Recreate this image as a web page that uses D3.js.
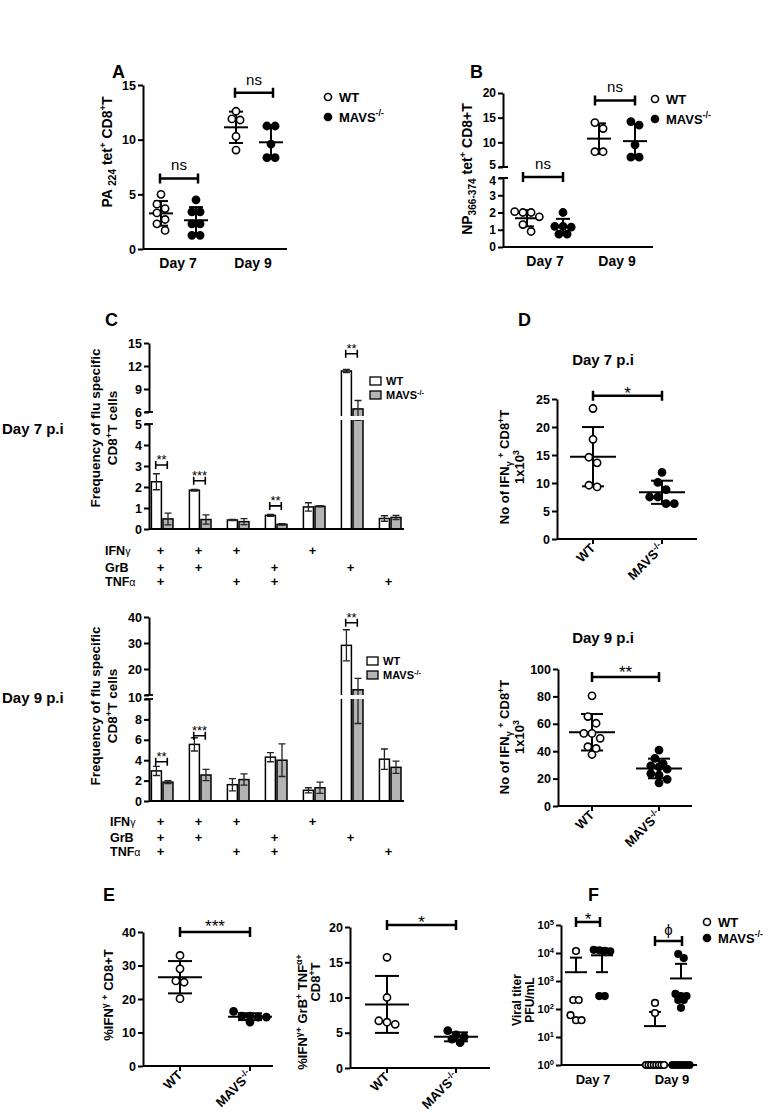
<!DOCTYPE html>
<html><head><meta charset="utf-8">
<script src="https://cdn.jsdelivr.net/npm/d3@7"></script>
<style>body{margin:0;background:#fff}svg{display:block}</style>
</head><body>
<svg id="chart" width="770" height="1118"></svg>
<script>
// ================= DATA =================
// Panel A
const aDays = ["Day 7", "Day 9"];
const aWT = [[5.0, 4.1, 3.7, 3.3, 2.7, 2.3, 1.7], [12.6, 11.9, 11.8, 10.3, 9.05]];
const aMAVS = [[4.5, 3.4, 3.4, 2.3, 2.3, 1.25, 1.25], [11.25, 11.25, 9.6, 8.35, 8.35]];
const aTicks = [0, 5, 10, 15];
const aSig = [6.45, 14.3];
const aSigLabels = ["ns", "ns"];
// Panel B
const bDays = ["Day 7", "Day 9"];
const bWT = [[2.05, 2.0, 2.0, 1.75, 1.3, 0.9], [14.0, 12.8, 8.1, 8.1]];
const bMAVS = [[2.0, 1.2, 1.2, 1.15, 0.75, 0.75], [14.2, 13.5, 9.5, 7.0, 7.0]];
const bLowTicks = [0, 1, 2, 3, 4];
const bHighTicks = [5, 10, 15, 20];
const bSig = [4.1, 18.5];
const bSigLabels = ["ns", "ns"];
// Panel C
const cComboRows = ["IFN", "GrB", "TNF"];
const cComboGreek = ["γ", "", "α"];
const cCombos = [[1,1,1],[1,1,0],[1,0,1],[0,1,1],[1,0,0],[0,1,0],[0,0,1]];
const c7WT = [2.25, 1.85, 0.43, 0.65, 1.05, 11.35, 0.5];
const c7WTerr = [0.38, 0.04, 0.03, 0.05, 0.2, 0.2, 0.13];
const c7MAVS = [0.48, 0.45, 0.35, 0.22, 1.08, 6.4, 0.55];
const c7MAVSerr = [0.28, 0.22, 0.14, 0.04, 0.03, 1.1, 0.1];
const c7LowTicks = [0, 1, 2, 3, 4, 5];
const c7HighTicks = [6, 9, 12, 15];
const c7Sig = [[0, 3.05, "**"], [1, 2.3, "***"], [3, 1.1, "**"], [5, 13.6, "**"]];
const c9WT = [2.95, 5.55, 1.6, 4.3, 1.05, 29.1, 4.1];
const c9WTerr = [0.45, 0.65, 0.6, 0.45, 0.25, 6.0, 1.0];
const c9MAVS = [1.85, 2.55, 2.1, 4.0, 1.3, 12.0, 3.3];
const c9MAVSerr = [0.15, 0.55, 0.55, 1.6, 0.55, 4.4, 0.6];
const c9LowTicks = [0, 2, 4, 6, 8, 10];
const c9HighTicks = [10, 20, 30, 40];
const c9Sig = [[0, 3.85, "**"], [1, 6.4, "***"], [5, 37.8, "**"]];
// Panel D
const dGroups = ["WT", "MAVS"];
const d7WT = [23.3, 17.8, 14.6, 13.6, 9.6, 9.3];
const d7MAVS = [11.9, 10.1, 8.8, 7.5, 7.5, 6.3, 6.3];
const d7Ticks = [0, 5, 10, 15, 20, 25];
const d9WT = [80.4, 65.3, 60.4, 53, 53, 49.4, 43.3, 42, 37.6];
const d9MAVS = [40.8, 34.7, 31, 29.3, 28.6, 26.9, 23.7, 22.5, 19.5, 16.9];
const d9Ticks = [0, 20, 40, 60, 80, 100];
// Panel E
const e1WT = [33, 29, 25.4, 25, 20.1];
const e1MAVS = [16.3, 14.9, 14.9, 14.6, 14.6, 13.1];
const e1Ticks = [0, 10, 20, 30, 40];
const e2WT = [15.7, 10.0, 6.7, 6.5, 6.2];
const e2MAVS = [5.3, 4.7, 4.4, 4.1, 3.6];
const e2Ticks = [0, 5, 10, 15, 20];
// Panel F
const fDays = ["Day 7", "Day 9"];
const fWT = [[11800, 210, 210, 60, 40, 40], [165, 72, 1, 1, 1, 1, 1, 1, 1, 1]];
const fMAVS = [[13000, 12500, 12000, 11500, 290, 290], [9200, 6600, 345, 290, 290, 210, 210, 110, 1, 1, 1, 1, 1, 1]];
const fExps = [0, 1, 2, 3, 4, 5];

// ================= HELPERS =================
const FONT = '"Liberation Sans", Arial, Helvetica, sans-serif';
const svg = d3.select("#chart");

function rich(t, parts, fs) {
  let shift = 0;
  parts.forEach(p => {
    const [s, k] = Array.isArray(p) ? p : [p, "n"];
    const ts = t.append("tspan").text(s);
    let target = 0, size = fs;
    if (k === "sup") { target = -fs * 0.4; size = fs * 0.68; }
    else if (k === "sub") { target = fs * 0.25; size = fs * 0.72; }
    else if (k === "g") { size = fs * 0.85; }
    ts.attr("dy", target - shift).attr("font-size", size);
    if (k === "g") ts.attr("font-weight", "normal");
    shift = target;
  });
}
function txt(g, x, y, s, fs, o = {}) {
  const t = g.append("text").attr("x", x).attr("y", y).attr("font-size", fs)
    .attr("font-family", FONT).attr("font-weight", o.weight || "bold")
    .attr("text-anchor", o.anchor || "start").attr("fill", "#000");
  if (o.rotate != null) t.attr("transform", `rotate(${o.rotate},${x},${y})`);
  if (typeof s === "string") t.text(s); else rich(t, s, fs);
  return t;
}
function yAxis(g, x, scale, ticks, fs = 12.5, fmt) {
  const a = g.append("g").attr("transform", `translate(${x},0)`)
    .call(d3.axisLeft(scale).tickValues(ticks).tickSize(5).tickSizeOuter(0).tickPadding(2)
      .tickFormat(fmt || d3.format("d")));
  a.select(".domain").attr("stroke", "#000").attr("stroke-width", 2);
  a.selectAll(".tick line").attr("stroke", "#000").attr("stroke-width", 2);
  a.selectAll(".tick text").attr("font-size", fs).attr("font-weight", "bold")
    .attr("font-family", FONT).attr("fill", "#000");
  return a;
}
function hline(g, x1, x2, y, sw = 2) {
  g.append("line").attr("x1", x1).attr("x2", x2).attr("y1", y).attr("y2", y)
    .attr("stroke", "#000").attr("stroke-width", sw);
}
function vline(g, x, y1, y2, sw = 2) {
  g.append("line").attr("x1", x).attr("x2", x).attr("y1", y1).attr("y2", y2)
    .attr("stroke", "#000").attr("stroke-width", sw);
}
function broken(low, high) {
  const l1 = low.domain()[1], h0 = high.domain()[0];
  const gap = d3.scaleLinear().domain([l1, h0]).range([low(l1), high(h0)]);
  return v => v <= l1 ? low(v) : (v >= h0 ? high(v) : gap(v));
}
function scatter(g, vals, cx, y, filled, o = {}) {
  const r = o.r || 3.6, sp = o.sp || 2 * r + 1, maxW = o.maxW || 40;
  const ys = vals.map(v => y(v));
  const idx = d3.range(vals.length).sort((a, b) => ys[a] - ys[b]);
  const rows = [];
  idx.forEach(i => {
    const last = rows[rows.length - 1];
    if (last && Math.abs(ys[i] - ys[last[0]]) < (o.thr || sp * 0.9)) last.push(i);
    else rows.push([i]);
  });
  const pts = [];
  rows.forEach(row => {
    const n = row.length, s = n > 1 ? Math.min(sp, maxW / (n - 1)) : 0;
    row.forEach((i, j) => pts.push({ x: cx + (j - (n - 1) / 2) * s, y: ys[i] }));
  });
  const m = d3.mean(vals), sd = d3.deviation(vals);
  const mw = o.mw || 17, cw = o.cw || 9, sw = o.sw || 2;
  const top = y(m + sd), bot = (m - sd > 0 || !o.log) ? y(m - sd) : null;
  vline(g, cx, top, bot == null ? y(m) : bot, sw);
  hline(g, cx - mw, cx + mw, y(m), sw);
  hline(g, cx - cw, cx + cw, top, sw);
  if (bot != null) hline(g, cx - cw, cx + cw, bot, sw);
  g.selectAll(null).data(pts).join("circle")
    .attr("cx", d => d.x).attr("cy", d => d.y).attr("r", r)
    .attr("fill", filled ? "#000" : "#fff").attr("stroke", "#000").attr("stroke-width", 1.6);
}
function bracket(g, x1, x2, y, label, fs, o = {}) {
  const h = o.h || 5, sw = o.sw || 2.5;
  g.append("path").attr("d", `M${x1},${y - h}V${y + h}M${x1},${y}H${x2}M${x2},${y - h}V${y + h}`)
    .attr("stroke", "#000").attr("stroke-width", sw).attr("fill", "none");
  txt(g, (x1 + x2) / 2, y - (o.gap == null ? 7 : o.gap), label, fs, { anchor: "middle", weight: o.weight || "normal" });
}
function legendDots(g, x, y, dy, fs) {
  g.append("circle").attr("cx", x).attr("cy", y).attr("r", 3.5).attr("fill", "#fff").attr("stroke", "#000").attr("stroke-width", 1.6);
  g.append("circle").attr("cx", x).attr("cy", y + dy).attr("r", 3.5).attr("fill", "#000").attr("stroke", "#000").attr("stroke-width", 1.6);
  txt(g, x + 11, y + fs * 0.36, "WT", fs);
  txt(g, x + 11, y + dy + fs * 0.36, ["MAVS", ["-/-", "sup"]], fs);
}
const MAVS = ["MAVS", ["-/-", "sup"]];

// ================= PANEL A =================
{
  const g = svg.append("g");
  txt(g, 112, 78, "A", 18);
  const y = d3.scaleLinear().domain([0, 15]).range([249, 85]);
  const x = d3.scalePoint().domain(aDays).range([178, 253]);
  yAxis(g, 143, y, aTicks);
  hline(g, 143, 287, 249);
  aDays.forEach((d, i) => {
    const cx = x(d);
    scatter(g, aWT[i], cx - 17, y, false, { mw: 12, cw: 7 });
    scatter(g, aMAVS[i], cx + 18, y, true, { mw: 12, cw: 7 });
    bracket(g, cx - 18, cx + 20, y(aSig[i]), aSigLabels[i], 15, { gap: 8 });
    txt(g, cx, 268, d, 14, { anchor: "middle" });
  });
  txt(g, 112, 152, ["PA ", ["224", "sub"], " tet", ["+", "sup"], " CD8", ["+", "sup"], "T"], 14, { anchor: "middle", rotate: -90 });
  legendDots(g, 328, 97, 20, 13);
}

// ================= PANEL B =================
{
  const g = svg.append("g");
  txt(g, 470, 78, "B", 18);
  const low = d3.scaleLinear().domain([0, 4]).range([247, 178]);
  const high = d3.scaleLinear().domain([5, 20]).range([167, 93]);
  const y = broken(low, high);
  const x = d3.scalePoint().domain(bDays).range([545, 617]);
  const la = yAxis(g, 503, low, bLowTicks, 12);
  const ha = yAxis(g, 503, high, bHighTicks, 12);
  la.selectAll(".tick text").filter(d => d === 4).attr("dy", "0.55em");
  ha.selectAll(".tick text").filter(d => d === 5).attr("dy", "0.15em");
  hline(g, 499, 508, low(4)); hline(g, 499, 508, high(5));
  hline(g, 503, 653, 247);
  bDays.forEach((d, i) => {
    const cx = x(d);
    scatter(g, bWT[i], cx - 18, y, false, { mw: 12, cw: 7 });
    scatter(g, bMAVS[i], cx + 18, y, true, { mw: 12, cw: 7 });
    bracket(g, cx - 22, cx + 18, y(bSig[i]), bSigLabels[i], 15, { gap: 8 });
    txt(g, cx, 266, d, 14, { anchor: "middle" });
  });
  txt(g, 472, 169, ["NP", ["366-374", "sub"], " tet", ["+", "sup"], " CD8+T"], 14, { anchor: "middle", rotate: -90 });
  legendDots(g, 655, 99, 20, 13);
}

// ================= PANEL C =================
function drawC(cfg) {
  const g = svg.append("g");
  const y = broken(cfg.low, cfg.high);
  const x = d3.scaleBand().domain(d3.range(7)).range([149, 404]).paddingInner(0.39).paddingOuter(0.05);
  const bw = x.bandwidth() / 2;
  const y0 = cfg.low(0);
  d3.range(7).forEach(i => {
    [[cfg.wt, cfg.wtErr, "#fff", 0], [cfg.mv, cfg.mvErr, "#b4b4b4", 1]].forEach(([vals, errs, fill, k]) => {
      const bx = x(i) + k * bw + 0.5;
      g.append("rect").attr("x", bx).attr("y", y(vals[i])).attr("width", bw - 1.6)
        .attr("height", y0 - y(vals[i])).attr("fill", fill).attr("stroke", "#000").attr("stroke-width", 1.5);
      const cx = bx + (bw - 1.6) / 2;
      const et = y(vals[i] + errs[i]), eb = y(vals[i] - errs[i]);
      g.append("path").attr("d", `M${cx - 3.5},${et}H${cx + 3.5}M${cx},${et}V${eb}M${cx - 3.5},${eb}H${cx + 3.5}`)
        .attr("stroke", "#222").attr("stroke-width", 1.3).attr("fill", "none");
    });
  });
  const bandMid = (cfg.low(cfg.low.domain()[1]) + cfg.high(cfg.high.domain()[0])) / 2;
  g.append("rect").attr("x", 151).attr("y", bandMid - 2).attr("width", 253).attr("height", 4).attr("fill", "#fff");
  const lowTop = cfg.low.domain()[1];
  yAxis(g, 149, cfg.low, cfg.lowTicks, 12.5, d => (cfg.shareBreakLabel && d === lowTop) ? "" : d3.format("d")(d));
  yAxis(g, 149, cfg.high, cfg.highTicks, 12.5, d => (cfg.shareBreakLabel && d === lowTop) ? "" : d3.format("d")(d));
  if (cfg.shareBreakLabel) {
    txt(g, 142, bandMid + 4.5, String(lowTop), 12.5, { anchor: "end" });
  }
  hline(g, 145, 153, cfg.low(cfg.low.domain()[1]), 1.8);
  hline(g, 145, 153, cfg.high(cfg.high.domain()[0]), 1.8);
  hline(g, 149, 404, y0);
  cfg.sig.forEach(([gi, v, lbl]) => {
    const x1 = x(gi) + bw / 2 - 1, x2 = x(gi) + bw * 1.5 - 1;
    bracket(g, x1, x2, y(v), lbl, 13, { h: 4, sw: 1.6, gap: 1 });
  });
  [["WT", "#fff"], [MAVS, "#b4b4b4"]].forEach(([lab, fill], k) => {
    g.append("rect").attr("x", cfg.legX).attr("y", cfg.legY + k * 14).attr("width", 11).attr("height", 8)
      .attr("fill", fill).attr("stroke", "#000").attr("stroke-width", 1.3);
    txt(g, cfg.legX + 16, cfg.legY + k * 14 + 8, lab, 11);
  });
  cComboRows.forEach((r, ri) => {
    const lbl = cComboGreek[ri] ? [r, [cComboGreek[ri], "g"]] : r;
    txt(g, cfg.comboX, cfg.comboY[ri], lbl, 12.5);
    cCombos.forEach((c, gi) => {
      if (c[ri]) txt(g, x(gi) + bw - 2, cfg.comboY[ri], "+", 13, { anchor: "middle" });
    });
  });
  txt(g, 100, cfg.labY, "Frequency of flu specific", 13.5, { anchor: "middle", rotate: -90 });
  txt(g, 117, cfg.labY, ["CD8", ["+", "sup"], "T cells"], 13.5, { anchor: "middle", rotate: -90 });
  txt(g, 2, cfg.dayY, cfg.dayLabel, 15);
}
txt(svg, 105, 326, "C", 18);
drawC({
  low: d3.scaleLinear().domain([0, 5]).range([529, 424]),
  high: d3.scaleLinear().domain([6, 15]).range([412, 343]),
  lowTicks: c7LowTicks, highTicks: c7HighTicks,
  wt: c7WT, wtErr: c7WTerr, mv: c7MAVS, mvErr: c7MAVSerr, sig: c7Sig,
  legX: 370, legY: 377, comboX: 105, comboY: [555, 572, 586], labY: 428,
  dayLabel: "Day 7 p.i", dayY: 434
});
drawC({
  low: d3.scaleLinear().domain([0, 10]).range([801, 699]),
  high: d3.scaleLinear().domain([10, 40]).range([695, 617]),
  lowTicks: c9LowTicks, highTicks: c9HighTicks, shareBreakLabel: true,
  wt: c9WT, wtErr: c9WTerr, mv: c9MAVS, mvErr: c9MAVSerr, sig: c9Sig,
  legX: 367, legY: 657, comboX: 110, comboY: [826, 842, 856], labY: 706,
  dayLabel: "Day 9 p.i", dayY: 703
});

// ================= PANEL D / E helper =================
function drawDot(cfg) {
  const g = svg.append("g");
  const y = d3.scaleLinear().domain([0, cfg.max]).range([cfg.y0, cfg.y1]);
  const x = d3.scalePoint().domain(dGroups).range(cfg.xr);
  yAxis(g, cfg.ax, y, cfg.ticks);
  hline(g, cfg.ax, cfg.axEnd, cfg.y0);
  dGroups.forEach(d => vline(g, x(d), cfg.y0, cfg.y0 + 5));
  scatter(g, cfg.wt, x("WT"), y, false, { mw: cfg.mw, cw: cfg.cw });
  scatter(g, cfg.mv, x("MAVS"), y, true, { mw: cfg.mw, cw: cfg.cw });
  bracket(g, x("WT"), x("MAVS"), y(cfg.sigV), cfg.sigL, cfg.sigFs, { gap: cfg.sigGap, h: 5 });
  txt(g, x("WT") + 3, cfg.y0 + 10, "WT", 13, { anchor: "end", rotate: -45 });
  txt(g, x("MAVS") + 3, cfg.y0 + 10, MAVS, 13, { anchor: "end", rotate: -45 });
  return g;
}
txt(svg, 518, 326, "D", 18);
{
  const g = drawDot({ max: 25, y0: 539, y1: 399, xr: [593, 662], ax: 557, axEnd: 697, ticks: d7Ticks,
    wt: d7WT, mv: d7MAVS, mw: 23, cw: 11, sigV: 25.6, sigL: "*", sigFs: 17, sigGap: -3 });
  txt(g, 603, 365, "Day 7 p.i", 15, { anchor: "middle" });
  txt(g, 509, 467, ["No of  IFN", ["γ", "sub"], " ", ["+", "sup"], " CD8", ["+", "sup"], "T"], 13, { anchor: "middle", rotate: -90 });
  txt(g, 524, 467, ["1x10", ["3", "sup"]], 13, { anchor: "middle", rotate: -90 });
}
{
  const g = drawDot({ max: 100, y0: 806, y1: 669, xr: [592, 659], ax: 558, axEnd: 692, ticks: d9Ticks,
    wt: d9WT, mv: d9MAVS, mw: 23, cw: 11, sigV: 94.1, sigL: "**", sigFs: 17, sigGap: -1 });
  txt(g, 603, 643, "Day 9 p.i", 15, { anchor: "middle" });
  txt(g, 509, 737, ["No of  IFN", ["γ", "sub"], " ", ["+", "sup"], " CD8", ["+", "sup"], "T"], 13, { anchor: "middle", rotate: -90 });
  txt(g, 524, 737, ["1x10", ["3", "sup"]], 13, { anchor: "middle", rotate: -90 });
}

// ================= PANEL E =================
txt(svg, 103, 901, "E", 18);
{
  const g = drawDot({ max: 40, y0: 1066, y1: 932, xr: [180, 250], ax: 143, axEnd: 273, ticks: e1Ticks,
    wt: e1WT, mv: e1MAVS, mw: 22, cw: 12, sigV: 40, sigL: "***", sigFs: 17, sigGap: 0 });
  txt(g, 113, 995, ["%IFN", ["γ", "sup"], " ", ["+", "sup"], " CD8+T"], 13, { anchor: "middle", rotate: -90 });
}
{
  const g = drawDot({ max: 20, y0: 1068, y1: 927, xr: [387, 456], ax: 350, axEnd: 490, ticks: e2Ticks,
    wt: e2WT, mv: e2MAVS, mw: 22, cw: 12, sigV: 20.3, sigL: "*", sigFs: 17, sigGap: -3 });
  txt(g, 307, 1012, ["%IFN", ["γ", "sup"], ["+", "sup"], " GrB", ["+", "sup"], " TNF", ["α", "sup"], ["+", "sup"]], 13, { anchor: "middle", rotate: -90 });
  txt(g, 320, 982, ["CD8", ["+", "sup"], "T"], 13, { anchor: "middle", rotate: -90 });
}

// ================= PANEL F =================
txt(svg, 588, 901, "F", 18);
{
  const g = svg.append("g");
  const y = d3.scaleLog().domain([1, 1e5]).range([1065, 925]);
  const x = d3.scalePoint().domain(fDays).range([589, 668]);
  const a = yAxis(g, 561, y, fExps.map(e => Math.pow(10, e)));
  a.selectAll(".tick text").remove();
  fExps.forEach(e => txt(g, 554, y(Math.pow(10, e)) + 4, ["10", [String(e), "sup"]], 11, { anchor: "end" }));
  hline(g, 561, 697, 1065);
  fDays.forEach((d, i) => {
    const cx = x(d);
    scatter(g, fWT[i], cx - 13, y, false, { r: 3.3, sp: 5.5, maxW: 18, mw: 11, cw: 6, log: true });
    scatter(g, fMAVS[i], cx + 13, y, true, { r: 3.3, sp: 5.5, maxW: 17, mw: 11, cw: 6, log: true });
    txt(g, cx + 4, 1084, d, 13, { anchor: "middle" });
  });
  bracket(g, x("Day 7") - 13, x("Day 7") + 11, 922, "*", 17, { gap: -3, h: 5 });
  bracket(g, x("Day 9") - 13, x("Day 9") + 14, 941, "ϕ", 15, { gap: 6, h: 5 });
  txt(g, 521, 1000, "Viral titer", 12, { anchor: "middle", rotate: -90 });
  txt(g, 534, 1000, "PFU/mL", 12, { anchor: "middle", rotate: -90 });
  legendDots(g, 707, 922, 16, 13);
}
</script>
</body></html>
